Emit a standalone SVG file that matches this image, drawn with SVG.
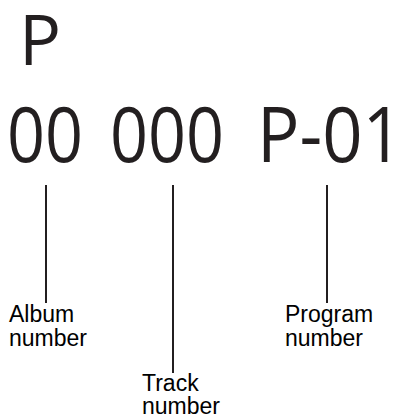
<svg xmlns="http://www.w3.org/2000/svg" width="399" height="417" viewBox="0 0 399 417">
<style>
.big{font-family:"Open Sans","Noto Sans",sans-serif;fill:#231f20;}
.lbl{font-family:"Liberation Sans",Arial,sans-serif;font-size:23px;fill:#000;}
.ln{stroke:#231f20;stroke-width:2;fill:none;}
</style>
<rect width="399" height="417" fill="#fff"/>
<g id="title"><text class="big" x="19" y="65" font-size="70">P</text></g>
<g id="code">
<text class="big" x="7" y="162" font-size="77" textLength="76" lengthAdjust="spacingAndGlyphs">00</text>
<text class="big" x="110" y="162" font-size="77" textLength="114" lengthAdjust="spacingAndGlyphs">000</text>
<text class="big" x="257" y="162" font-size="77" textLength="146" lengthAdjust="spacingAndGlyphs">P-01</text>
</g>
<g id="connectors">
<line class="ln" x1="46" y1="185" x2="46" y2="303"/>
<line class="ln" x1="173" y1="185" x2="173" y2="373"/>
<line class="ln" x1="327" y1="185" x2="327" y2="303"/>
</g>
<g id="album"><text class="lbl" x="9" y="322">Album</text><text class="lbl" x="9" y="346">number</text></g>
<g id="track"><text class="lbl" x="142" y="391">Track</text><text class="lbl" x="142" y="414">number</text></g>
<g id="program"><text class="lbl" x="285" y="322">Program</text><text class="lbl" x="285" y="346">number</text></g>
</svg>
